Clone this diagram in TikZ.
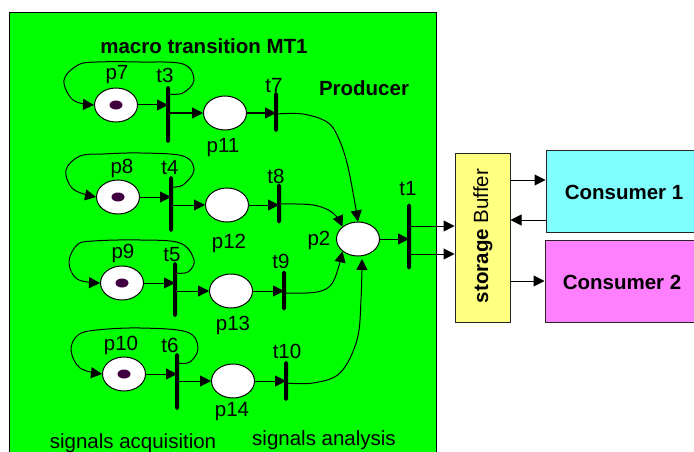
\documentclass[tikz,border=0pt]{standalone}
\usepackage{fontspec}
\setmainfont{Liberation Sans}
\usetikzlibrary{arrows.meta,shapes.geometric}
\definecolor{gr}{HTML}{00FF00}
\definecolor{ye}{HTML}{FFFF80}
\definecolor{cy}{HTML}{80FFFF}
\definecolor{ma}{HTML}{FF80FF}
\definecolor{tok}{HTML}{400040}
\tikzset{
 place/.style={ellipse,draw=black,line width=1pt,fill=white,minimum width=43pt,minimum height=34pt,inner sep=0pt},
 token/.style={ellipse,fill=tok,minimum width=13pt,minimum height=9pt,inner sep=0pt},
 bar/.style={rectangle,fill=black,rounded corners=1.8pt,minimum width=4pt,inner sep=0pt},
 lab/.style={inner sep=0pt,font=\fontsize{20.5}{24}\selectfont},
 blab/.style={inner sep=0pt,font=\fontsize{20.5}{24}\selectfont\bfseries},
 box/.style={rectangle,draw=black!85,line width=1pt,inner sep=0pt},
 arr/.style={line width=1pt,-{Triangle[length=11pt,width=11pt]}},
 lp/.style={smooth,tension=0.6}
}
\begin{document}
\begin{tikzpicture}[x=1pt,y=-1pt]
\path[use as bounding box] (0,0) rectangle (694,452);
\clip (0,0) rectangle (694,452);
\fill[white] (0,0) rectangle (694,452);
\draw[fill=gr,line width=1pt] (9,13) rectangle (436,470);
% places
\node[place] (p7) at (116,105) {};
\node[place] (p8) at (118,197) {};
\node[place] (p9) at (122,283) {};
\node[place] (p10) at (124,374) {};
\node[token] (k7) at (p7) {};
\node[token] (k8) at (p8) {};
\node[token] (k9) at (p9) {};
\node[token] (k10) at (p10) {};
\node[place] (p11) at (225,113) {};
\node[place] (p12) at (227,205) {};
\node[place] (p13) at (231,291) {};
\node[place] (p14) at (233,381) {};
\node[place] (p2) at (358,239) {};
% transitions
\node[bar,minimum height=57pt] (t3) at (168,114.5) {};
\node[bar,minimum height=56pt] (t4) at (171,204) {};
\node[bar,minimum height=55pt] (t5) at (175,289.5) {};
\node[bar,minimum height=57pt] (t6) at (177,381.5) {};
\node[bar,minimum height=40pt] (t7) at (276,112) {};
\node[bar,minimum height=40pt] (t8) at (279,203.5) {};
\node[bar,minimum height=40pt] (t9) at (284,290.5) {};
\node[bar,minimum height=40pt] (t10) at (286,381) {};
\node[bar,minimum height=66pt] (t1) at (409,236.5) {};
% boxes
\node[box,fill=ye,minimum width=55pt,minimum height=169pt] (buf) at (482.5,237.5) {};
\node[box,fill=cy,minimum width=160pt,minimum height=82pt] (c1) at (626,191) {};
\node[box,fill=ma,minimum width=161pt,minimum height=82pt] (c2) at (625.5,281) {};
\node[blab] (c1t) at (624,192) {Consumer 1};
\node[blab] (c2t) at (622,282) {Consumer 2};
\node[lab,rotate=90] (buft) at (483,236) {\textbf{storage} Buffer};
% labels
\node[blab] (title) at (204,46) {macro transition MT1};
\node[blab] (prod) at (364,88) {Producer};
\node[lab] (lp7) at (117,75) {p7};
\node[lab] (lt3) at (165,75) {t3};
\node[lab] (lt7) at (274,86) {t7};
\node[lab] (lp11) at (223,148) {p11};
\node[lab] (lp8) at (122,168) {p8};
\node[lab] (lt4) at (170,168) {t4};
\node[lab] (lt8) at (276,176) {t8};
\node[lab] (lp12) at (229,243) {p12};
\node[lab] (lp9) at (123,253) {p9};
\node[lab] (lt5) at (172,255) {t5};
\node[lab] (lt9) at (281,261) {t9};
\node[lab] (lp13) at (233,325) {p13};
\node[lab] (lp10) at (121,345) {p10};
\node[lab] (lt6) at (170,345) {t6};
\node[lab] (lt10) at (287,351) {t10};
\node[lab] (lp14) at (232,412) {p14};
\node[lab] (lp2) at (319,240) {p2};
\node[lab] (lt1) at (408,189) {t1};
\node[lab] (sa) at (133,443) {signals acquisition};
\node[lab] (sb) at (324,440) {signals analysis};
% straight arcs
\foreach \a/\b in {p7/t3,p8/t4,p9/t5,p10/t6,p11/t7,p12/t8,p13/t9,p14/t10}
  \draw[arr] (\a.east) -- (\a.east -| \b);
\foreach \a/\b in {t3/p11,t4/p12,t5/p13,t6/p14}
  \draw[arr] (\a |- \b.west) -- (\b.west);
\draw[arr] (p2.east) -- (p2.east -| t1);
\draw[arr] (t1 |- 0,226) -- (buf.west |- 0,226);
\draw[arr] (t1 |- 0,254) -- (buf.west |- 0,254);
\draw[arr] (buf.east |- 0,180) -- (c1.west |- 0,180);
\draw[arr] (c1.west |- 0,220) -- (buf.east |- 0,220);
\draw[arr] (buf.east |- 0,281) -- (c2.west |- 0,281);
% self loops
\draw[arr] plot[lp] coordinates {(t3 |- 0,94) (183,93) (194,80) (183,64) (140,62) (97,62) (78,65) (64,80) (73,100) (p7.west)};
\draw[arr] plot[lp] coordinates {(t4 |- 0,187) (183,185) (194,170) (183,156) (140,153) (103,154) (80,156) (66,170) (73,189) (p8.west)};
\draw[arr] plot[lp] coordinates {(t5 |- 0,273) (188,272) (194,260) (180,243) (140,240) (93,241) (77,245) (69,262) (77,279) (p9.west)};
\draw[arr] plot[lp] coordinates {(t6 |- 0,363) (190,362) (198,348) (187,332) (140,328) (97,330) (78,335) (71,350) (80,368) (p10.west)};
% into p2
\draw[arr] plot[lp] coordinates {(t7 |- 0,114) (303,114) (327,122) (338,137) (348,167) (p2.north)};
\draw[arr] plot[lp] coordinates {(t8 |- 0,204) (313,205) (333,213) (p2.north west)};
\draw[arr] plot[lp] coordinates {(t9 |- 0,293) (317,292) (333,282) (p2.south west)};
\draw[arr] plot[lp] coordinates {(t10 |- 0,383) (313,383) (340,373) (357,340) (361,300) (362,259)};
\end{tikzpicture}
\end{document}
